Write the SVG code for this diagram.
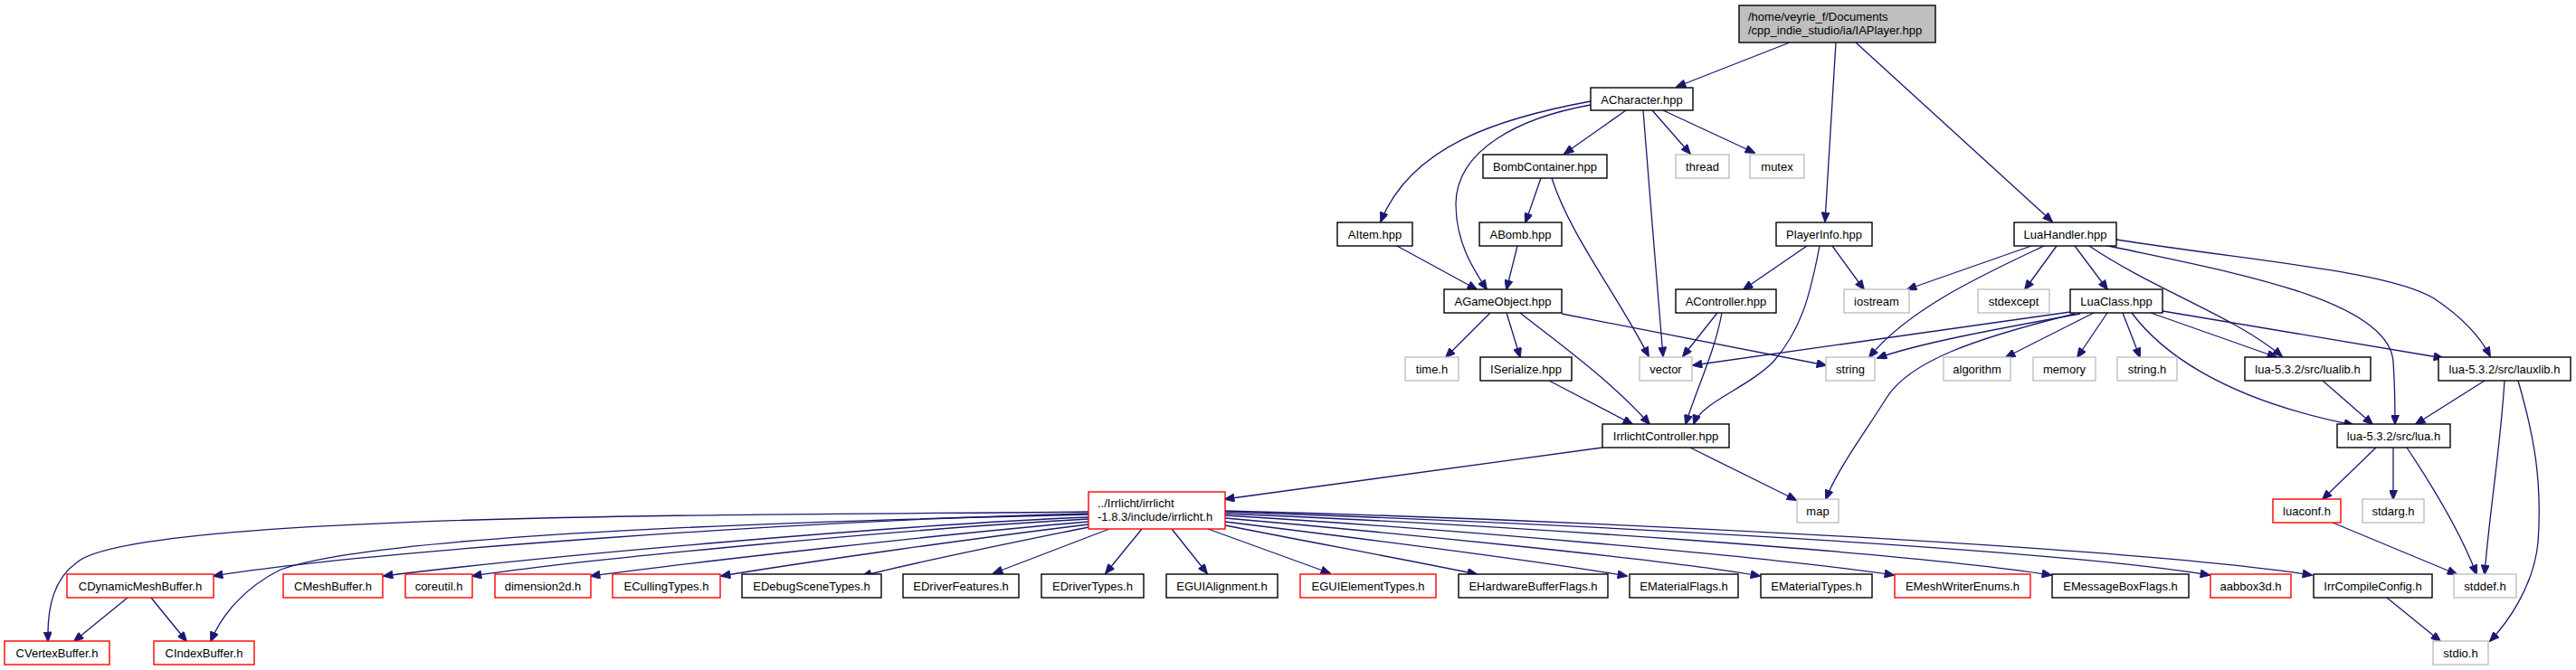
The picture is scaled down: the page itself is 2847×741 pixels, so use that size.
<svg xmlns="http://www.w3.org/2000/svg" width="2847" height="741" viewBox="0 0 2847 741">
<style>
rect{fill:#fff;stroke:#000;stroke-width:1.4}
.g rect{stroke:#bfbfbf}
.r rect{stroke:#ff0000}
.root rect{fill:#bfbfbf}
text{font-family:"Liberation Sans",Arial,sans-serif;font-size:13px;fill:#000;text-anchor:middle}
.root text{text-anchor:start}
#edges path{fill:none;stroke:#191970;stroke-width:1.3;marker-end:url(#ah)}
</style>
<defs>
<marker id="ah" viewBox="0 0 12 10" refX="11" refY="5" markerWidth="12" markerHeight="9" markerUnits="userSpaceOnUse" orient="auto">
<path d="M0,0 L12,5 L0,10 z" fill="#191970" stroke="#191970" stroke-width="1"/>
</marker>
</defs>
<rect x="0" y="0" width="2847" height="741" style="stroke:none;fill:#fff"/>
<g id="edges">
<path d="M1978,47 L1853,96"/>
<path d="M2029,47 L2017,245"/>
<path d="M2051,47 L2268,245"/>
<path d="M1797,122 L1729,170"/>
<path d="M1826,122 L1868,170"/>
<path d="M1838,122 L1939,169"/>
<path d="M1816,122 C1822,200 1832,320 1838,394"/>
<path d="M1758,112 C1660,130 1560,160 1526,245"/>
<path d="M1758,116 C1680,130 1610,165 1609,225 C1609,270 1630,300 1643,320"/>
<path d="M1703,197 L1686,246"/>
<path d="M1715,197 C1735,260 1790,330 1822,394"/>
<path d="M1544,272 L1632,320"/>
<path d="M1677,272 L1665,320"/>
<path d="M1647,346 L1598,395"/>
<path d="M1665,346 L1680,395"/>
<path d="M1680,346 C1710,370 1780,420 1823,469"/>
<path d="M1726,347 L2018,404"/>
<path d="M1712,421 L1804,469"/>
<path d="M1898,346 L1860,394"/>
<path d="M1903,346 C1895,390 1875,430 1863,469"/>
<path d="M1997,272 L1927,320"/>
<path d="M2025,272 L2060,320"/>
<path d="M2011,272 C2000,330 1990,365 1960,400 C1930,430 1880,445 1872,469"/>
<path d="M2245,272 L2108,320"/>
<path d="M2259,272 C2200,300 2110,340 2066,395"/>
<path d="M2273,272 L2238,320"/>
<path d="M2293,272 L2329,320"/>
<path d="M2309,272 C2380,320 2470,350 2522,394"/>
<path d="M2326,271 C2460,300 2640,330 2645,400 C2647,430 2647,450 2647,469"/>
<path d="M2339,265 C2500,290 2640,300 2690,330 C2720,350 2740,370 2752,394"/>
<path d="M2288,345 L1871,404"/>
<path d="M2299,347 C2200,365 2120,380 2075,396"/>
<path d="M2293,347 C2180,375 2110,400 2085,440 C2060,480 2030,520 2018,552"/>
<path d="M2314,346 L2217,395"/>
<path d="M2329,346 L2296,395"/>
<path d="M2346,346 L2365,395"/>
<path d="M2356,346 C2385,385 2450,440 2601,470"/>
<path d="M2377,346 L2516,395"/>
<path d="M2390,344 L2700,396"/>
<path d="M2567,421 L2622,469"/>
<path d="M2746,421 L2670,469"/>
<path d="M2768,421 C2763,500 2752,560 2746,635"/>
<path d="M2783,421 C2800,480 2810,530 2805,600 C2800,650 2770,690 2752,709"/>
<path d="M2626,495 L2567,552"/>
<path d="M2645,495 L2645,552"/>
<path d="M2660,495 C2690,540 2720,590 2737,635"/>
<path d="M2578,578 L2715,635"/>
<path d="M2638,661 L2697,709"/>
<path d="M1771,495 L1354,552"/>
<path d="M1868,495 L1985,553"/>
<path d="M1203,566 C900,570 150,565 85,622 C60,640 52,670 53,709"/>
<path d="M1203,568 C900,575 400,610 236,637"/>
<path d="M1203,569 C900,576 420,590 310,630 C270,650 245,680 233,709"/>
<path d="M1203,572 C1000,580 600,615 424,637"/>
<path d="M1203,574 C1000,585 650,618 522,637"/>
<path d="M1203,577 C1050,590 780,620 653,637"/>
<path d="M1203,580 C1080,595 900,620 797,637"/>
<path d="M1203,583 C1120,600 1010,622 953,637"/>
<path d="M1226,585 L1098,634"/>
<path d="M1262,585 L1222,634"/>
<path d="M1295,585 L1334,634"/>
<path d="M1335,585 L1470,634"/>
<path d="M1354,581 C1450,600 1560,620 1632,635"/>
<path d="M1354,577 C1500,595 1700,620 1798,637"/>
<path d="M1354,573 C1550,590 1850,620 1945,637"/>
<path d="M1354,570 C1600,585 1950,615 2093,636"/>
<path d="M1354,568 C1650,580 2100,610 2267,636"/>
<path d="M1354,566 C1700,578 2250,605 2442,636"/>
<path d="M1354,565 C1750,575 2350,605 2555,636"/>
<path d="M141,661 L82,709"/>
<path d="M167,661 L206,709"/>
</g>
<g id="n_root" class="root"><rect x="1922" y="6" width="217" height="41"/><text x="1932" y="23">/home/veyrie_f/Documents</text><text x="1932" y="38">/cpp_indie_studio/ia/IAPlayer.hpp</text></g>
<g id="n_acharacter"><rect x="1758" y="97" width="113" height="25"/><text x="1814.5" y="114.5">ACharacter.hpp</text></g>
<g id="n_bombcontainer"><rect x="1639" y="171" width="137" height="26"/><text x="1707.5" y="188.5">BombContainer.hpp</text></g>
<g id="n_thread" class="g"><rect x="1852" y="171" width="59" height="26"/><text x="1881.5" y="188.5">thread</text></g>
<g id="n_mutex" class="g"><rect x="1934" y="171" width="60" height="26"/><text x="1964" y="188.5">mutex</text></g>
<g id="n_aitem"><rect x="1478" y="246" width="83" height="26"/><text x="1519.5" y="263.5">AItem.hpp</text></g>
<g id="n_abomb"><rect x="1635" y="246" width="91" height="26"/><text x="1680.5" y="263.5">ABomb.hpp</text></g>
<g id="n_playerinfo"><rect x="1963" y="246" width="106" height="26"/><text x="2016" y="263.5">PlayerInfo.hpp</text></g>
<g id="n_luahandler"><rect x="2226" y="246" width="113" height="26"/><text x="2282.5" y="263.5">LuaHandler.hpp</text></g>
<g id="n_agameobject"><rect x="1596" y="320" width="130" height="26"/><text x="1661" y="337.5">AGameObject.hpp</text></g>
<g id="n_acontroller"><rect x="1852" y="320" width="111" height="26"/><text x="1907.5" y="337.5">AController.hpp</text></g>
<g id="n_iostream" class="g"><rect x="2038" y="320" width="72" height="26"/><text x="2074" y="337.5">iostream</text></g>
<g id="n_stdexcept" class="g"><rect x="2186" y="320" width="79" height="26"/><text x="2225.5" y="337.5">stdexcept</text></g>
<g id="n_luaclass"><rect x="2288" y="320" width="102" height="26"/><text x="2339" y="337.5">LuaClass.hpp</text></g>
<g id="n_time" class="g"><rect x="1553" y="395" width="59" height="26"/><text x="1582.5" y="412.5">time.h</text></g>
<g id="n_iserialize"><rect x="1636" y="395" width="101" height="26"/><text x="1686.5" y="412.5">ISerialize.hpp</text></g>
<g id="n_vector" class="g"><rect x="1812" y="395" width="58" height="26"/><text x="1841" y="412.5">vector</text></g>
<g id="n_string" class="g"><rect x="2018" y="395" width="54" height="26"/><text x="2045" y="412.5">string</text></g>
<g id="n_algorithm" class="g"><rect x="2148" y="395" width="74" height="26"/><text x="2185" y="412.5">algorithm</text></g>
<g id="n_memory" class="g"><rect x="2247" y="395" width="69" height="26"/><text x="2281.5" y="412.5">memory</text></g>
<g id="n_stringh" class="g"><rect x="2340" y="395" width="66" height="26"/><text x="2373" y="412.5">string.h</text></g>
<g id="n_lualib"><rect x="2481" y="395" width="139" height="26"/><text x="2550.5" y="412.5">lua-5.3.2/src/lualib.h</text></g>
<g id="n_lauxlib"><rect x="2695" y="395" width="146" height="26"/><text x="2768" y="412.5">lua-5.3.2/src/lauxlib.h</text></g>
<g id="n_irrlichtcontroller"><rect x="1771" y="469" width="140" height="26"/><text x="1841" y="486.5">IrrlichtController.hpp</text></g>
<g id="n_luah"><rect x="2583" y="469" width="125" height="26"/><text x="2645.5" y="486.5">lua-5.3.2/src/lua.h</text></g>
<g id="n_irrlicht" class="r"><rect x="1203" y="544" width="151" height="41"/><text x="1213" y="561" style="text-anchor:start">../Irrlicht/irrlicht</text><text x="1213" y="576" style="text-anchor:start">-1.8.3/include/irrlicht.h</text></g>
<g id="n_map" class="g"><rect x="1986" y="552" width="46" height="26"/><text x="2009" y="569.5">map</text></g>
<g id="n_luaconf" class="r"><rect x="2512" y="552" width="75" height="26"/><text x="2549.5" y="569.5">luaconf.h</text></g>
<g id="n_stdarg" class="g"><rect x="2611" y="552" width="68" height="26"/><text x="2645" y="569.5">stdarg.h</text></g>
<g id="n_cdynamicmeshbuffer" class="r"><rect x="74" y="635" width="162" height="26"/><text x="155" y="652.5">CDynamicMeshBuffer.h</text></g>
<g id="n_cmeshbuffer" class="r"><rect x="313" y="635" width="110" height="26"/><text x="368" y="652.5">CMeshBuffer.h</text></g>
<g id="n_coreutil" class="r"><rect x="448" y="635" width="74" height="26"/><text x="485" y="652.5">coreutil.h</text></g>
<g id="n_dimension2d" class="r"><rect x="547" y="635" width="106" height="26"/><text x="600" y="652.5">dimension2d.h</text></g>
<g id="n_ecullingtypes" class="r"><rect x="677" y="635" width="119" height="26"/><text x="736.5" y="652.5">ECullingTypes.h</text></g>
<g id="n_edebugscenetypes"><rect x="820" y="635" width="154" height="26"/><text x="897" y="652.5">EDebugSceneTypes.h</text></g>
<g id="n_edriverfeatures"><rect x="998" y="635" width="128" height="26"/><text x="1062" y="652.5">EDriverFeatures.h</text></g>
<g id="n_edrivertypes"><rect x="1151" y="635" width="113" height="26"/><text x="1207.5" y="652.5">EDriverTypes.h</text></g>
<g id="n_eguialignment"><rect x="1289" y="635" width="123" height="26"/><text x="1350.5" y="652.5">EGUIAlignment.h</text></g>
<g id="n_eguielementtypes" class="r"><rect x="1437" y="635" width="150" height="26"/><text x="1512" y="652.5">EGUIElementTypes.h</text></g>
<g id="n_ehardwarebufferflags"><rect x="1612" y="635" width="165" height="26"/><text x="1694.5" y="652.5">EHardwareBufferFlags.h</text></g>
<g id="n_ematerialflags"><rect x="1801" y="635" width="120" height="26"/><text x="1861" y="652.5">EMaterialFlags.h</text></g>
<g id="n_ematerialtypes"><rect x="1946" y="635" width="123" height="26"/><text x="2007.5" y="652.5">EMaterialTypes.h</text></g>
<g id="n_emeshwriterenums" class="r"><rect x="2094" y="635" width="150" height="26"/><text x="2169" y="652.5">EMeshWriterEnums.h</text></g>
<g id="n_emessageboxflags"><rect x="2268" y="635" width="151" height="26"/><text x="2343.5" y="652.5">EMessageBoxFlags.h</text></g>
<g id="n_aabbox3d" class="r"><rect x="2443" y="635" width="89" height="26"/><text x="2487.5" y="652.5">aabbox3d.h</text></g>
<g id="n_irrcompileconfig"><rect x="2557" y="635" width="131" height="26"/><text x="2622.5" y="652.5">IrrCompileConfig.h</text></g>
<g id="n_stddef" class="g"><rect x="2712" y="635" width="69" height="26"/><text x="2746.5" y="652.5">stddef.h</text></g>
<g id="n_cvertexbuffer" class="r"><rect x="5" y="709" width="116" height="26"/><text x="63" y="726.5">CVertexBuffer.h</text></g>
<g id="n_cindexbuffer" class="r"><rect x="170" y="709" width="111" height="26"/><text x="225.5" y="726.5">CIndexBuffer.h</text></g>
<g id="n_stdio" class="g"><rect x="2689" y="709" width="61" height="26"/><text x="2719.5" y="726.5">stdio.h</text></g>
</svg>
